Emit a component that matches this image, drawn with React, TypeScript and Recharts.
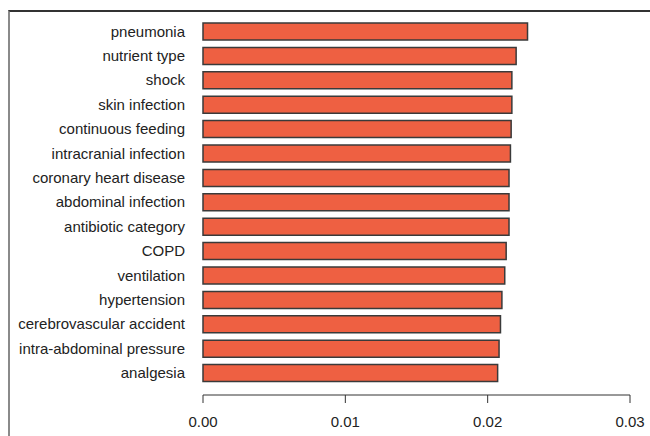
import { Bar, BarChart, XAxis, YAxis } from 'recharts'

const factors = [
  'pneumonia',
  'nutrient type',
  'shock',
  'skin infection',
  'continuous feeding',
  'intracranial infection',
  'coronary heart disease',
  'abdominal infection',
  'antibiotic category',
  'COPD',
  'ventilation',
  'hypertension',
  'cerebrovascular accident',
  'intra-abdominal pressure',
  'analgesia',
]

const importance = [
  0.0228, 0.0220, 0.0217, 0.0217, 0.02165, 0.0216, 0.0215, 0.0215, 0.0215,
  0.0213, 0.0212, 0.0210, 0.0209, 0.0208, 0.0207,
]

const xTicks = [0, 0.01, 0.02, 0.03]

const data = factors.map((name, i) => ({ name, value: importance[i] }))

const font = 'Liberation Sans, Arial, sans-serif'

export default function App() {
  return (
    <div style={{ position: 'absolute', left: 0, top: 0, width: 650, height: 436, background: '#fff' }}>
      <div
        style={{
          position: 'absolute',
          left: 8,
          top: 10,
          width: 642,
          height: 426,
          borderTop: '2px solid #333',
          borderLeft: '2px solid #8a8a8a',
          boxSizing: 'border-box',
        }}
      />
      <BarChart
        width={650}
        height={436}
        data={data}
        layout="vertical"
        margin={{ top: 19, right: 20, bottom: 0, left: 0 }}
        style={{ position: 'absolute', left: 0, top: 0 }}
      >
        <XAxis
          type="number"
          domain={[0, 0.03]}
          ticks={xTicks}
          tickFormatter={(v: number) => v.toFixed(2)}
          height={41}
          stroke="#333"
          tickSize={8}
          tickMargin={13}
          tick={{ fill: '#222', fontSize: 15, fontFamily: font }}
        />
        <YAxis
          type="category"
          dataKey="name"
          width={203}
          axisLine={false}
          tickLine={false}
          tickSize={0}
          tickMargin={18}
          padding={{ top: 0, bottom: 10 }}
          interval={0}
          tick={{ fill: '#222', fontSize: 15, fontFamily: font }}
        />
        <Bar
          dataKey="value"
          fill="#EE6042"
          stroke="#3a3a3a"
          strokeWidth={1.5}
          barSize={17}
          isAnimationActive={false}
        />
      </BarChart>
    </div>
  )
}
